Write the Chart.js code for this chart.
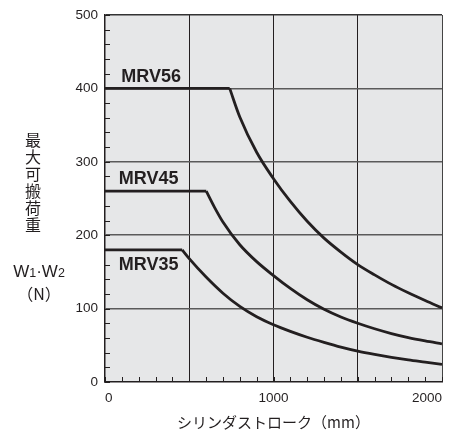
<!DOCTYPE html>
<html>
<head>
<meta charset="utf-8">
<script src="https://cdn.jsdelivr.net/npm/chart.js@4"></script>
<style>
  html, body { margin: 0; padding: 0; background: #fff; }
  #wrap { width: 450px; height: 436px; }
</style>
</head>
<body>
<div id="wrap"><canvas id="loadChart" width="450" height="436"></canvas></div>
<script>
const seriesNames = ["MRV56", "MRV45", "MRV35"];

const mrv56Stroke = [0, 740, 800, 900, 1000, 1100, 1200, 1300, 1400, 1500, 1600, 1700, 1800, 1900, 2000];
const mrv56Load = [400, 400, 361, 313, 277, 246, 219, 196, 177, 160, 146, 133, 121.5, 111, 101];

const mrv45Stroke = [0, 601, 650, 700, 800, 900, 1000, 1100, 1200, 1300, 1400, 1500, 1600, 1700, 1800, 1900, 2000];
const mrv45Load = [260, 260, 238, 218, 187, 164, 145, 127.5, 112, 99, 88.5, 80, 72.5, 66, 60.5, 56, 52];

const mrv35Stroke = [0, 458, 500, 600, 700, 800, 900, 1000, 1100, 1200, 1300, 1400, 1500, 1600, 1700, 1800, 1900, 2000];
const mrv35Load = [180, 180, 168, 143, 121, 103, 89, 78, 69, 61, 54, 47.5, 42, 37.5, 33.5, 30, 27, 24];

const xTickLabels = [0, 1000, 2000];
const yTickLabels = [0, 100, 200, 300, 400, 500];

const xTitle = "シリンダストローク（mm）";
const yTitleText = "最大可搬荷重";
const yUnitText = "（N）";

const ink = "#231f20";
const latin = "'Liberation Sans', Arial, sans-serif";
const cjk = "'Noto Sans CJK JP', sans-serif";

// flat part and falling part drawn separately so the corner stays sharp
function splitSeries(strokes, loads) {
  const pts = strokes.map(function (s, i) { return { x: s, y: loads[i] }; });
  return [pts.slice(0, 2), pts.slice(1)];
}

const datasets = [];
[[mrv56Stroke, mrv56Load], [mrv45Stroke, mrv45Load], [mrv35Stroke, mrv35Load]].forEach(function (pair, i) {
  const parts = splitSeries(pair[0], pair[1]);
  datasets.push({ label: seriesNames[i], data: parts[0], tension: 0 });
  datasets.push({ label: seriesNames[i], data: parts[1], cubicInterpolationMode: "monotone" });
});
datasets.forEach(function (d) {
  d.borderColor = ink;
  d.borderWidth = 2.8;
  d.pointRadius = 0;
  d.fill = false;
});

const plotBg = {
  id: "plotBg",
  beforeDraw(chart) {
    const a = chart.chartArea, ctx = chart.ctx;
    ctx.save();
    ctx.fillStyle = "#e6e7e8";
    ctx.fillRect(a.left, a.top, a.right - a.left, a.bottom - a.top);
    ctx.restore();
  }
};

const innerTicks = {
  id: "innerTicks",
  beforeDatasetsDraw(chart) {
    const a = chart.chartArea, ctx = chart.ctx;
    const xs = chart.scales.x, ys = chart.scales.y;
    ctx.save();
    ctx.strokeStyle = ink;
    ctx.lineWidth = 1;
    ctx.beginPath();
    xs.ticks.forEach(function (t) {
      const px = Math.round(xs.getPixelForValue(t.value)) + 0.5;
      ctx.moveTo(px, a.bottom);
      ctx.lineTo(px, a.bottom - 5);
    });
    ys.ticks.forEach(function (t) {
      const py = Math.round(ys.getPixelForValue(t.value)) + 0.5;
      ctx.moveTo(a.left, py);
      ctx.lineTo(a.left + 5, py);
    });
    ctx.stroke();
    ctx.restore();
  }
};

const seriesLabels = {
  id: "seriesLabels",
  afterDatasetsDraw(chart) {
    const ctx = chart.ctx, xs = chart.scales.x, ys = chart.scales.y;
    const spots = [[97, 416], [82, 277], [82, 160]];
    ctx.save();
    ctx.font = "bold 18px " + latin;
    ctx.fillStyle = ink;
    ctx.textBaseline = "middle";
    seriesNames.forEach(function (n, i) {
      ctx.fillText(n, xs.getPixelForValue(spots[i][0]), ys.getPixelForValue(spots[i][1]));
    });
    ctx.restore();
  }
};

const yTitle = {
  id: "yTitle",
  afterDraw(chart) {
    const ctx = chart.ctx;
    ctx.save();
    ctx.fillStyle = ink;
    ctx.textBaseline = "middle";
    ctx.textAlign = "center";
    ctx.font = "16px " + cjk;
    Array.from(yTitleText).forEach(function (c, i) {
      ctx.fillText(c, 33, 140 + i * 17);
    });

    // W1·W2 with small digits
    const parts = [["W", 17], ["1", 12.5], ["·", 17], ["W", 17], ["2", 12.5]];
    ctx.textAlign = "left";
    ctx.textBaseline = "alphabetic";
    let total = 0;
    parts.forEach(function (p) { ctx.font = p[1] + "px " + latin; total += ctx.measureText(p[0]).width; });
    let px = 39 - total / 2;
    parts.forEach(function (p) {
      ctx.font = p[1] + "px " + latin;
      ctx.fillText(p[0], px, 277);
      px += ctx.measureText(p[0]).width;
    });

    ctx.textAlign = "center";
    ctx.textBaseline = "middle";
    ctx.font = "16px " + cjk;
    ctx.fillText(yUnitText, 39, 294);
    ctx.restore();
  }
};

new Chart(document.getElementById("loadChart"), {
  type: "line",
  data: { datasets: datasets },
  options: {
    responsive: false,
    animation: false,
    devicePixelRatio: 1,
    layout: { padding: { top: 15, right: 8, left: 0, bottom: 0 } },
    plugins: { legend: { display: false }, tooltip: { enabled: false } },
    scales: {
      x: {
        type: "linear",
        min: 0,
        max: 2000,
        ticks: {
          stepSize: 100,
          autoSkip: false,
          maxRotation: 0,
          align: "inner",
          padding: 8,
          color: ink,
          font: { size: 13.5, family: latin },
          callback: function (v) { return xTickLabels.includes(v) ? String(v) : ""; }
        },
        grid: {
          drawTicks: false,
          lineWidth: 1,
          color: function (c) {
            const v = c.tick && c.tick.value;
            if (v === 2000) return "#444";
            if (v > 0 && v % 500 === 0) return ink;
            return "rgba(0,0,0,0)";
          }
        },
        border: { color: ink, width: 1.5 },
        title: {
          display: true,
          text: xTitle,
          color: ink,
          font: { size: 15, family: cjk },
          padding: { top: 2, bottom: 5 }
        },
        afterFit: function (s) { s.height = 54; s.paddingLeft = 0; s.paddingRight = 0; }
      },
      y: {
        type: "linear",
        min: 0,
        max: 500,
        ticks: {
          stepSize: 20,
          autoSkip: false,
          padding: 7,
          color: ink,
          font: { size: 13.5, family: latin },
          callback: function (v) { return yTickLabels.includes(v) ? String(v) : ""; }
        },
        grid: {
          drawTicks: false,
          lineWidth: 1.5,
          color: function (c) {
            const v = c.tick && c.tick.value;
            if (v === 500) return "#333";
            if (v > 0 && v % 100 === 0) return "#5a5a5a";
            return "rgba(0,0,0,0)";
          }
        },
        border: { color: ink, width: 1.5 },
        afterFit: function (s) { s.width = 105; s.paddingTop = 0; s.paddingBottom = 0; }
      }
    }
  },
  plugins: [plotBg, innerTicks, seriesLabels, yTitle]
});
</script>
</body>
</html>
